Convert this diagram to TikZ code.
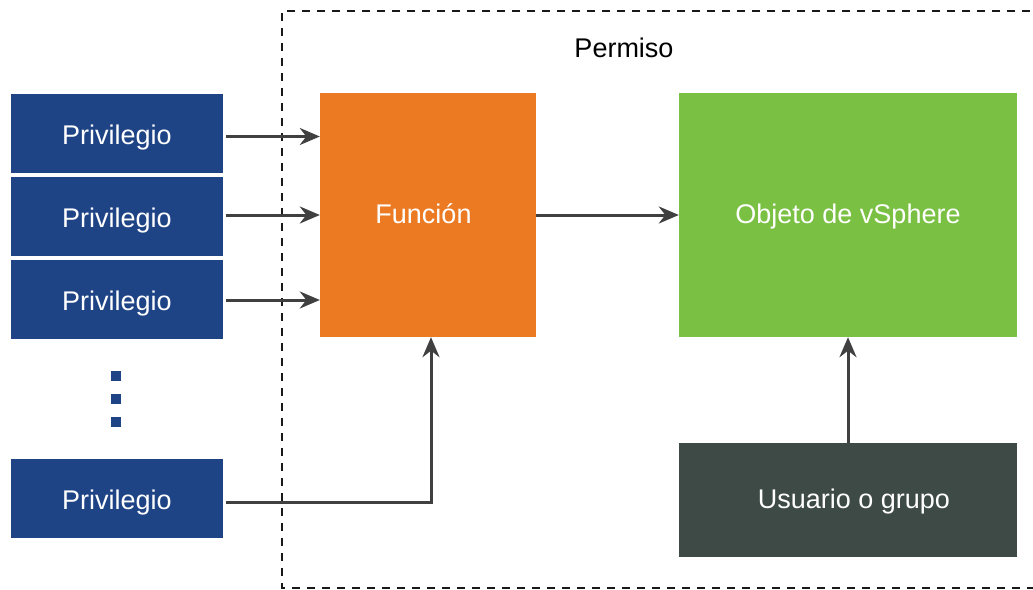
\documentclass[tikz,border=0pt]{standalone}
\usepackage{fontspec}
\setmainfont{Liberation Sans}
\usetikzlibrary{arrows.meta}
\definecolor{privblue}{HTML}{1F4486}
\definecolor{funcorange}{HTML}{EB7A23}
\definecolor{objgreen}{HTML}{7AC043}
\definecolor{userdark}{HTML}{3D4A46}
\definecolor{arrowgray}{HTML}{404040}
\begin{document}
\begin{tikzpicture}[x=1pt,y=-1pt,
  box/.style={inner sep=0pt, text=white, font=\fontsize{27}{32}\selectfont, text height=20pt, text depth=3pt},
  privbox/.style={box, fill=privblue, minimum width=212pt, minimum height=79pt, text height=22pt, text depth=0pt},
  conn/.style={draw=arrowgray, line width=3pt, -{Stealth[length=20pt,width=17pt]}},
  dotsq/.style={fill=privblue, minimum size=10pt, inner sep=0pt}]
\clip (0,0) rectangle (1033,589);
\fill[white] (0,0) rectangle (1033,589);
% dashed permission frame
\draw[black!90, line width=2.6pt, dash pattern=on 8pt off 7pt] (1060,11) -- (282,11) -- (282,588) -- (1060,588);
\node[font=\fontsize{27}{32}\selectfont] (perm) at (624,48) {Permiso};
% privileges
\node[privbox] (p1) at (117,133.5) {Privilegio};
\node[privbox] (p2) at (117,216.5) {Privilegio};
\node[privbox] (p3) at (117,299) {Privilegio};
\node[privbox] (p4) at (117,498.5) {Privilegio};
\node[dotsq] (d1) at (116,376) {};
\node[dotsq] (d2) at (116,399) {};
\node[dotsq] (d3) at (116,422) {};
% main boxes
\node[box, fill=funcorange, minimum width=216pt, minimum height=244pt] (f) at (428,215) {\hspace*{-9pt}Función};
\node[box, fill=objgreen, minimum width=338pt, minimum height=244pt] (o) at (848,215) {Objeto de vSphere};
\node[box, fill=userdark, minimum width=338pt, minimum height=114pt] (u) at (848,500) {\hspace*{12pt}Usuario o grupo};
% connectors
\draw[conn] ([xshift=3pt,yshift=-3pt]p1.east) -- ([yshift=-3pt]p1.east -| f.west);
\draw[conn] ([xshift=3pt,yshift=1.5pt]p2.east) -- ([yshift=1.5pt]p2.east -| f.west);
\draw[conn] ([xshift=3pt,yshift=-1pt]p3.east) -- ([yshift=-1pt]p3.east -| f.west);
\draw[conn] (f.east) -- (o.west);
\draw[conn] ([xshift=3pt,yshift=-3.5pt]p4.east) -| ([xshift=3pt]f.south);
\draw[conn] (u.north) -- (o.south);
\end{tikzpicture}
\end{document}
